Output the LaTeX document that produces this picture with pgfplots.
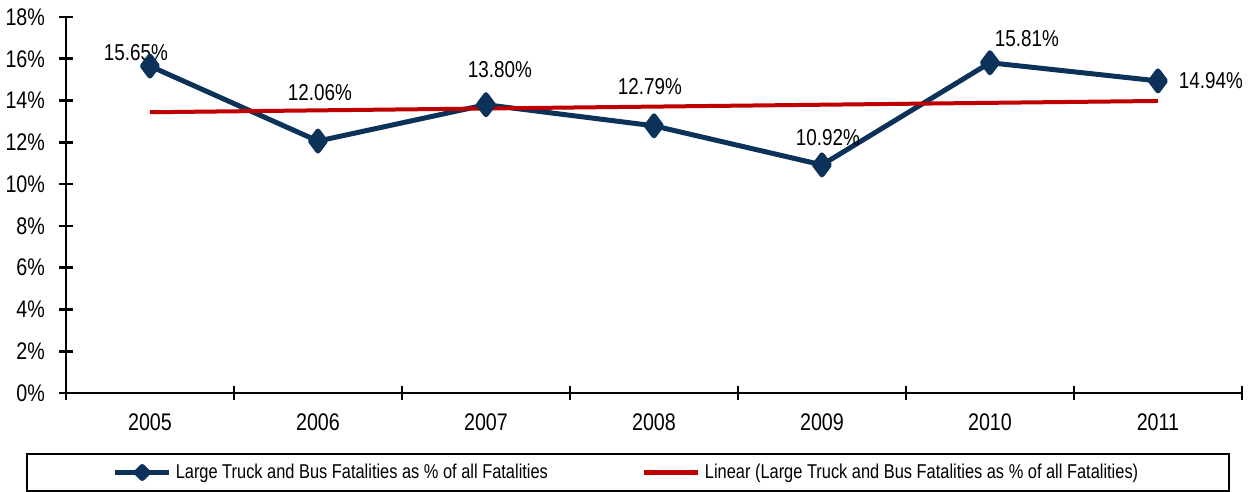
\documentclass[border=0pt]{standalone}
\usepackage{fontspec}
\setmainfont{Liberation Sans}[FakeStretch=0.82]
\usepackage{pgfplots}
\pgfplotsset{compat=1.18}
\definecolor{navy}{RGB}{13,50,89}
\definecolor{trendred}{RGB}{192,0,0}
\begin{document}
\begin{tikzpicture}
\begin{axis}[
  scale only axis, width=588pt, height=188pt,
  xmin=-0.5, xmax=6.5, ymin=0, ymax=18,
  clip=false,
  axis x line=bottom, axis y line=left,
  axis line style={-, line width=1.3pt, black},
  tick align=center,
  tick style={black, line width=1.3pt},
  major tick length=7pt,
  xtick={-0.5,0.5,1.5,2.5,3.5,4.5,5.5,6.5},
  xticklabels={},
  extra x ticks={0,1,2,3,4,5,6},
  extra x tick labels={2005,2006,2007,2008,2009,2010,2011},
  extra x tick style={major tick length=0pt, xticklabel style={yshift=-7pt}},
  ytick={0,2,4,6,8,10,12,14,16,18},
  yticklabels={0\%,2\%,4\%,6\%,8\%,10\%,12\%,14\%,16\%,18\%},
  yticklabel style={xshift=-3.5pt},
  ticklabel style={font=\fontsize{12}{14}\selectfont},
  /pgf/number format/assume math mode=true,
  legend columns=2,
  legend style={at={(0.4775,-0.1596)}, anchor=north, draw=black, line width=1pt,
    minimum width=601pt, minimum height=18.5pt, inner sep=0pt,
    nodes={minimum width=0pt, minimum height=0pt, inner sep=0.2em},
    font=\fontsize{10}{12}\selectfont,
    /tikz/every even column/.append style={column sep=45pt}},
  legend cell align=left,
]
\addplot[navy, line width=2.5pt, line join=round, mark=diamond*, mark size=5pt,
  mark options={solid, fill=navy, draw=none},
  legend image code/.code={
    \draw[navy, line width=2.5pt] (0pt,0pt) -- (27pt,0pt);
    \fill[navy] (13.5pt,0pt) +(0,3pt) -- +(3pt,0) -- +(0,-3pt) -- +(-3pt,0) -- cycle;}]
  coordinates {(0,15.65) (1,12.06) (2,13.80) (3,12.79) (4,10.92) (5,15.81) (6,14.94)};
\addlegendentry{Large Truck and Bus Fatalities as \% of all Fatalities}
\addplot[trendred, line width=2pt,
  legend image code/.code={\draw[trendred, line width=2.5pt] (0pt,0pt) -- (27pt,0pt);}]
  coordinates {(0,13.44) (6,13.98)};
\addlegendentry{Linear (Large Truck and Bus Fatalities as \% of all Fatalities)}
\begin{scope}[every node/.style={font=\fontsize{11.5}{13}\selectfont, inner sep=0pt, anchor=center}]
\node[xshift=-7pt, yshift=7pt] at (axis cs:0,15.65) {15.65\%};
\node[xshift=1pt, yshift=24pt] at (axis cs:1,12.06) {12.06\%};
\node[xshift=7pt, yshift=17.5pt] at (axis cs:2,13.80) {13.80\%};
\node[xshift=-2pt, yshift=19.5pt] at (axis cs:3,12.79) {12.79\%};
\node[xshift=3pt, yshift=13.5pt] at (axis cs:4,10.92) {10.92\%};
\node[xshift=18.5pt, yshift=12pt] at (axis cs:5,15.81) {15.81\%};
\node[xshift=26.5pt, yshift=0pt] at (axis cs:6,14.94) {14.94\%};
\end{scope}
\coordinate (bbA) at (rel axis cs:-0.0561,1.0452);
\coordinate (bbB) at (rel axis cs:1.0145,-0.2633);
\end{axis}
\pgfresetboundingbox
\path[use as bounding box] (bbA) rectangle (bbB);
\end{tikzpicture}
\end{document}
